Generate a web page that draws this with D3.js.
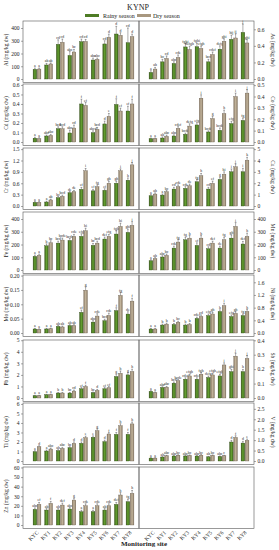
<!DOCTYPE html>
<html><head><meta charset="utf-8">
<script src="https://cdn.jsdelivr.net/npm/d3@7"></script>
<style>body{margin:0;background:#fff}svg{display:block}text{font-family:"Liberation Serif","Times New Roman",serif;fill:#222}</style>
</head><body><svg id="c" width="279" height="550"></svg>
<script>
const sites = ["KYC","KY1","KY2","KY3","KY4","KY5","KY6","KY7","KY8"];
const seriesNames = ["Rainy season","Dry season"];
const rowsLeft  = ["Al","Cd","Cr","Fe","Mo","Pb","Ti","Zn"];
const rowsRight = ["As","Co","Cu","Mn","Ni","Sb","V",null];

const AlRainy=[76,110,272,185,293,149,275,353,285], AlDry=[78,118,288,212,295,154,327,343,332];
const AlRainyErr=[10,12,35,30,20,15,25,60,115], AlDryErr=[8,8,25,20,15,10,25,20,20];
const AlRainyLbl=["a","ab","cd","abc","cd","abc","cd","d","cd"], AlDryLbl=["a","ab","cd","bc","cd","abc","d","d","d"];
const AlTicks=[0,100,200,300,400];

const AsRainy=[0.08,0.207,0.188,0.387,0.39,0.207,0.36,0.479,0.563], AsDry=[0.12,0.248,0.26,0.356,0.368,0.296,0.455,0.495,0.435];
const AsRainyErr=[0.02,0.03,0.02,0.04,0.04,0.03,0.04,0.05,0.1], AsDryErr=[0.02,0.03,0.03,0.04,0.03,0.03,0.03,0.05,0.04];
const AsRainyLbl=["a","bc","abc","fghi","fghi","bcd","defg","hij","j"], AsDryLbl=["ab","cd","cde","defgh","efgh","cdef","ghi","ij","ghi"];
const AsTicks=[0,0.2,0.4,0.6];

const CdRainy=[0.04,0.063,0.14,0.095,0.40,0.098,0.19,0.395,0.326], CdDry=[0.035,0.07,0.14,0.147,0.385,0.133,0.27,0.326,0.40];
const CdRainyErr=[0.01,0.01,0.02,0.03,0.05,0.02,0.03,0.06,0.05], CdDryErr=[0.01,0.01,0.02,0.03,0.03,0.02,0.03,0.03,0.05];
const CdRainyLbl=["a","abc","bcd","abc","f","abcd","d","f","ef"], CdDryLbl=["a","abc","bcd","cd","ef","bcd","e","ef","f"];
const CdTicks=[0,0.1,0.2,0.3,0.4,0.5,0.6];

const CoRainy=[0.03,0.035,0.053,0.068,0.15,0.088,0.103,0.162,0.19], CoDry=[0.03,0.05,0.12,0.14,0.385,0.206,0.25,0.40,0.43];
const CoRainyErr=[0.005,0.01,0.01,0.01,0.02,0.01,0.02,0.02,0.02], CoDryErr=[0.005,0.01,0.015,0.02,0.03,0.02,0.03,0.03,0.03];
const CoRainyLbl=["a","ab","abc","bcde","efg","bcde","bcde","efg","fg"], CoDryLbl=["a","abc","cdef","defg","i","g","h","i","j"];
const CoTicks=[0,0.1,0.2,0.3,0.4,0.5];

const CrRainy=[0.097,0.105,0.22,0.35,0.44,0.40,0.415,0.6,0.68], CrDry=[0.097,0.16,0.256,0.38,0.93,0.51,0.6,0.93,1.085];
const CrRainyErr=[0.02,0.02,0.03,0.03,0.05,0.04,0.04,0.05,0.06], CrDryErr=[0.02,0.02,0.03,0.03,0.06,0.05,0.05,0.05,0.06];
const CrRainyLbl=["a","a","bc","de","ef","ef","ef","gh","h"], CrDryLbl=["a","ab","bcd","de","i","fg","gh","i","j"];
const CrTicks=[0,0.3,0.6,0.9,1.2,1.5];

const CuRainy=[0.9,0.96,1.49,1.55,2.13,1.49,2.34,3.01,3.01], CuDry=[1.05,1.26,1.7,1.78,2.66,1.99,2.8,3.45,4.03];
const CuRainyErr=[0.1,0.1,0.15,0.15,0.2,0.15,0.2,0.25,0.3], CuDryErr=[0.1,0.1,0.15,0.15,0.2,0.2,0.2,0.25,0.25];
const CuRainyLbl=["a","a","cd","cde","fg","cd","g","i","i"], CuDryLbl=["ab","bc","cde","de","h","ef","hi","j","k"];
const CuTicks=[0,1,2,3,4,5];

const FeRainy=[107,190,211,232,264,193,243,282,295], FeDry=[115,214,235,264,308,211,264,342,350];
const FeRainyErr=[10,15,15,15,20,15,15,25,25], FeDryErr=[10,15,15,15,20,15,15,25,30];
const FeRainyLbl=["a","b","bcd","bcde","efg","bc","def","fgh","ghi"], FeDryLbl=["a","bc","bcde","cde","hi","bcd","efg","hi","i"];
const FeTicks=[0,100,200,300,400];

const MnRainy=[73,102,172,237,193,167,172,250,204], MnDry=[89,115,219,250,250,211,237,342,264];
const MnRainyErr=[8,10,15,20,20,15,15,25,20], MnDryErr=[8,10,20,20,20,15,20,30,25];
const MnRainyLbl=["a","abc","cde","fg","ef","cd","de","gh","def"], MnDryLbl=["ab","bc","fg","h","h","def","fg","i","h"];
const MnTicks=[0,100,200,300,400];

const MoRainy=[0.014,0.014,0.023,0.026,0.072,0.038,0.043,0.078,0.066], MoDry=[0.0125,0.015,0.021,0.026,0.149,0.059,0.061,0.131,0.111];
const MoRainyErr=[0.002,0.002,0.003,0.003,0.008,0.005,0.005,0.01,0.008], MoDryErr=[0.002,0.002,0.003,0.003,0.012,0.008,0.008,0.01,0.01];
const MoRainyLbl=["a","a","ab","ab","ef","abc","bcd","f","de"], MoDryLbl=["a","a","ab","ab","g","cde","cde","fg","f"];
const MoTicks=[0,0.05,0.10,0.15,0.20];

const NiRainy=[0.126,0.25,0.27,0.25,0.46,0.55,0.68,0.52,0.55], NiDry=[0.126,0.28,0.34,0.27,0.52,0.60,0.86,0.62,0.68];
const NiRainyErr=[0.02,0.03,0.03,0.03,0.04,0.05,0.05,0.05,0.05], NiDryErr=[0.02,0.03,0.03,0.03,0.05,0.05,0.08,0.05,0.06];
const NiRainyLbl=["a","b","b","b","cdef","efg","h","efg","fg"], NiDryLbl=["a","b","bc","b","cd","gh","i","gh","h"];
const NiTicks=[0,0.4,0.8,1.2,1.6];

const PbRainy=[0.2,0.29,0.43,0.43,0.8,0.46,0.8,1.86,2.0], PbDry=[0.2,0.31,0.43,0.6,1.0,0.66,0.89,2.14,2.29];
const PbRainyErr=[0.03,0.03,0.05,0.05,0.1,0.05,0.1,0.2,0.2], PbDryErr=[0.03,0.03,0.05,0.08,0.1,0.08,0.1,0.2,0.2];
const PbRainyLbl=["a","a","b","bc","ef","bc","ef","g","g"], PbDryLbl=["a","a","b","cd","f","d","ef","h","h"];
const PbTicks=[0,1,2,3,4,5];

const SbRainy=[0.046,0.073,0.103,0.13,0.13,0.142,0.153,0.183,0.183], SbDry=[0.037,0.075,0.12,0.153,0.165,0.16,0.229,0.29,0.274];
const SbRainyErr=[0.005,0.005,0.008,0.01,0.01,0.01,0.01,0.015,0.015], SbDryErr=[0.005,0.005,0.008,0.01,0.01,0.01,0.015,0.02,0.02];
const SbRainyLbl=["a","abc","bcd","cdef","cdef","defg","efgh","ghi","h"], SbDryLbl=["a","abc","bcde","efgh","fgh","efgh","i","j","j"];
const SbTicks=[0,0.1,0.2,0.3,0.4];

const TiRainy=[0.98,1.05,1.09,1.4,1.86,2.49,2.04,2.8,2.8], TiDry=[1.5,1.26,1.33,1.86,2.46,3.19,2.84,3.72,3.9];
const TiRainyErr=[0.1,0.1,0.1,0.1,0.15,0.15,0.15,0.2,0.2], TiDryErr=[0.1,0.1,0.1,0.15,0.15,0.2,0.15,0.2,0.2];
const TiRainyLbl=["a","a","ab","bc","d","e","d","f","f"], TiDryLbl=["d","abc","abc","d","e","g","f","h","h"];
const TiTicks=[0,1,2,3,4,5,6];

const VRainy=[0.14,0.19,0.24,0.24,0.24,0.2,0.22,0.91,0.86], VDry=[0.14,0.25,0.28,0.27,0.28,0.27,0.25,1.13,0.99];
const VRainyErr=[0.02,0.02,0.02,0.02,0.02,0.02,0.02,0.08,0.08], VDryErr=[0.02,0.02,0.02,0.02,0.03,0.02,0.02,0.08,0.06];
const VRainyLbl=["a","ab","abc","abc","abc","ab","abc","d","d"], VDryLbl=["a","abc","bc","bc","bc","bc","c","f","e"];
const VTicks=[0,0.5,1.0,1.5,2.0,2.5];

const ZnRainy=[16.3,15.6,15.6,16.7,13.9,13.9,15.6,21.5,24.3], ZnDry=[21.5,22.6,20.8,26,20.1,20.1,20.1,31.3,33];
const ZnRainyErr=[1.5,1.5,1.5,1.5,1.5,1.5,1.5,2,2.5], ZnDryErr=[2,2,2,2,2,2,2,2.5,3];
const ZnRainyLbl=["abc","ab","ab","abc","a","a","ab","def","fg"], ZnDryLbl=["ef","f","def","g","cde","cde","cde","h","h"];
const ZnTicks=[0,10,20,30,40,50,60];

const D = {
  Al:[AlRainy,AlDry,AlRainyErr,AlDryErr,AlRainyLbl,AlDryLbl,AlTicks,455,"d"],
  As:[AsRainy,AsDry,AsRainyErr,AsDryErr,AsRainyLbl,AsDryLbl,AsTicks,0.7,".1f"],
  Cd:[CdRainy,CdDry,CdRainyErr,CdDryErr,CdRainyLbl,CdDryLbl,CdTicks,0.61,".1f"],
  Co:[CoRainy,CoDry,CoRainyErr,CoDryErr,CoRainyLbl,CoDryLbl,CoTicks,0.51,".1f"],
  Cr:[CrRainy,CrDry,CrRainyErr,CrDryErr,CrRainyLbl,CrDryLbl,CrTicks,1.53,".1f"],
  Cu:[CuRainy,CuDry,CuRainyErr,CuDryErr,CuRainyLbl,CuDryLbl,CuTicks,5.1,"d"],
  Fe:[FeRainy,FeDry,FeRainyErr,FeDryErr,FeRainyLbl,FeDryLbl,FeTicks,455,"d"],
  Mn:[MnRainy,MnDry,MnRainyErr,MnDryErr,MnRainyLbl,MnDryLbl,MnTicks,455,"d"],
  Mo:[MoRainy,MoDry,MoRainyErr,MoDryErr,MoRainyLbl,MoDryLbl,MoTicks,0.202,".2f"],
  Ni:[NiRainy,NiDry,NiRainyErr,NiDryErr,NiRainyLbl,NiDryLbl,NiTicks,1.83,".1f"],
  Pb:[PbRainy,PbDry,PbRainyErr,PbDryErr,PbRainyLbl,PbDryLbl,PbTicks,5.02,"d"],
  Sb:[SbRainy,SbDry,SbRainyErr,SbDryErr,SbRainyLbl,SbDryLbl,SbTicks,0.402,".1f"],
  Ti:[TiRainy,TiDry,TiRainyErr,TiDryErr,TiRainyLbl,TiDryLbl,TiTicks,6.1,"d"],
  V:[VRainy,VDry,VRainyErr,VDryErr,VRainyLbl,VDryLbl,VTicks,2.78,".1f"],
  Zn:[ZnRainy,ZnDry,ZnRainyErr,ZnDryErr,ZnRainyLbl,ZnDryLbl,ZnTicks,60.5,"d"]
};

const svg = d3.select("#c");
const defs = svg.append("defs");
function grad(id, edge, mid){
  const g = defs.append("linearGradient").attr("id",id).attr("x1","0").attr("x2","1").attr("y1","0").attr("y2","0");
  g.append("stop").attr("offset","0%").attr("stop-color",edge);
  g.append("stop").attr("offset","50%").attr("stop-color",mid);
  g.append("stop").attr("offset","100%").attr("stop-color",edge);
}
grad("gR","#3c6218","#64a032");
grad("gD","#8c7c66","#c2b49c");
const fills=["url(#gR)","url(#gD)"], strokes=["#2c4610","#6a5c4a"], swatch=["#4e7c25","#a8977f"];

const zeros=[79,142,206,270,333,398,461,525];
const H=58;
const colX=[[23,139],[139,254]];

// title & legend
svg.append("text").attr("x",138).attr("y",10).attr("text-anchor","middle").attr("font-size",8).text("KYNP");
const leg=[[85,103],[137,153]];
seriesNames.forEach((n,i)=>{
  svg.append("line").attr("x1",leg[i][0]).attr("x2",leg[i][0]+14).attr("y1",15.5).attr("y2",15.5).attr("stroke",swatch[i]).attr("stroke-width",3);
  svg.append("text").attr("x",leg[i][1]).attr("y",17.5).attr("font-size",6).text(n);
});

function panel(col, row, el){
  const [x0,x1]=colX[col]; const z=zeros[row];
  const g=svg.append("g");
  g.append("rect").attr("x",x0).attr("y",z-H).attr("width",x1-x0).attr("height",H+3.5).attr("fill","none").attr("stroke","#555").attr("stroke-width",0.6);
  const x=d3.scalePoint().domain(sites).range([x0+14,x1-9]);
  if(row===7){
    sites.forEach(s=>{
      g.append("text").attr("font-size",5.5).attr("text-anchor","end")
        .attr("transform",`translate(${x(s)+2},${z+8}) rotate(-45)`).text(s);
    });
  }
  if(!el) return;
  const [r,d,re,de,rl,dl,ticks,max,fmt]=D[el];
  const y=d3.scaleLinear().domain([0,max]).range([z,z-H]);
  const ax = col===0 ? d3.axisLeft(y) : d3.axisRight(y);
  ax.tickValues(ticks).tickSize(2).tickPadding(1.5).tickFormat(d3.format(fmt));
  const ag=g.append("g").attr("transform",`translate(${col===0?x0:x1},0)`).call(ax);
  ag.select(".domain").remove();
  ag.selectAll("line").attr("stroke","#555").attr("stroke-width",0.5);
  ag.selectAll("text").attr("font-size",5.5).attr("fill","#333").style("font-family","Liberation Serif");
  const tx = col===0 ? 8 : 271;
  g.append("text").attr("font-size",5.5).attr("text-anchor","middle")
    .attr("transform",`translate(${tx},${z-H/2}) rotate(${col===0?-90:90})`).text(el+" (mg/kg dw)");
  [[r,re,rl,-3.9],[d,de,dl,0.3]].forEach((s,si)=>{
    const [vals,errs,lbls,off]=s;
    sites.forEach((site,i)=>{
      const bx=x(site)+off, bw=3.6;
      g.append("rect").attr("x",bx).attr("y",y(vals[i])).attr("width",bw).attr("height",z-y(vals[i]))
        .attr("fill",fills[si]).attr("stroke",strokes[si]).attr("stroke-width",0.35);
      const cx=bx+bw/2, ty=y(vals[i]+errs[i]);
      g.append("line").attr("x1",cx).attr("x2",cx).attr("y1",y(vals[i])).attr("y2",ty).attr("stroke","#333").attr("stroke-width",0.4);
      g.append("line").attr("x1",cx-0.9).attr("x2",cx+0.9).attr("y1",ty).attr("y2",ty).attr("stroke","#333").attr("stroke-width",0.4);
      g.append("text").attr("x",cx).attr("y",ty-1).attr("text-anchor","middle").attr("font-size",3.8).attr("fill","#333").text(lbls[i]);
    });
  });
}
rowsLeft.forEach((el,i)=>panel(0,i,el));
rowsRight.forEach((el,i)=>panel(1,i,el));

svg.append("text").attr("x",144).attr("y",546).attr("text-anchor","middle").attr("font-size",7).attr("font-weight","bold").text("Monitoring site");
</script></body></html>
